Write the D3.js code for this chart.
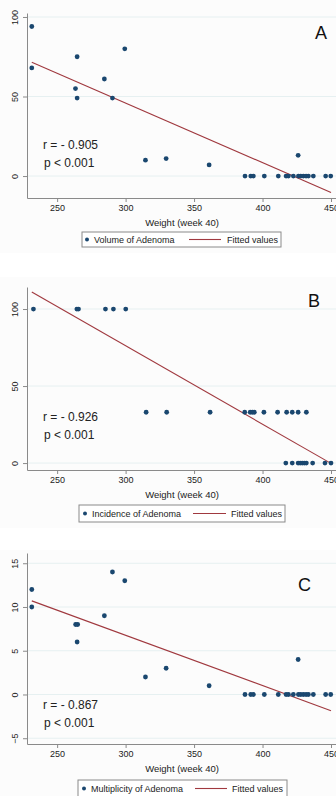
<!DOCTYPE html>
<html>
<head>
<meta charset="utf-8">
<title>Weight vs adenoma</title>
<script src="https://cdn.jsdelivr.net/npm/d3@7"></script>
<style>
  body { margin: 0; background: #fff; }
  svg { display: block; font-family: "Liberation Sans", Arial, sans-serif; }
  .tick text { font-size: 9px; fill: #222; }
  .axis path, .axis line { stroke: #8a8a8a; }
</style>
</head>
<body>
<svg id="chart" width="336" height="796"></svg>
<script>
// x tick labels (shared)
var xTicks = [250, 300, 350, 400, 450];

// panel A : volume of adenoma
var weightA = [231.5, 231.5, 264.6, 263.4, 264.6, 284.5, 290.4, 299.4, 314.5, 329.6, 361, 426,
  387.2, 391.4, 393.3, 401.3, 411.5, 417.2, 418.9, 422.5, 426.2, 427.9, 429.8, 431.8, 433.5, 437.1, 446.1, 449.8];
var volumeA = [94, 68, 75, 55, 49, 61, 49, 80, 10, 11, 7, 13,
  0, 0, 0, 0, 0, 0, 0, 0, 0, 0, 0, 0, 0, 0, 0, 0];
var yTicksA = [0, 50, 100];
var fitA = [[231.5, 71.5], [450, -10.3]];

// panel B : incidence of adenoma
var weightB = [232.7, 264.4, 265.6, 285.3, 291.1, 300.1,
  315, 330, 361.7, 387, 391, 392.6, 394, 401, 411, 417.6, 421.7, 426, 432,
  417, 421.7, 426, 427.5, 429, 430.5, 432, 436.6, 445.6, 450];
var incidenceB = [100, 100, 100, 100, 100, 100,
  33, 33, 33, 33, 33, 33, 33, 33, 33, 33, 33, 33, 33,
  0, 0, 0, 0, 0, 0, 0, 0, 0, 0];
var yTicksB = [0, 50, 100];
var fitB = [[231.5, 111], [450, -0.2]];

// panel C : multiplicity of adenoma
var weightC = [231.5, 231.5, 263.5, 265, 264.6, 284.5, 290.4, 299.4, 314.5, 329.6, 361, 426,
  387.2, 391.4, 393.3, 401.3, 411.5, 417.2, 418.9, 422.5, 426.2, 427.9, 429.8, 431.8, 433.5, 437.1, 446.1, 449.8];
var multiplicityC = [12, 10, 8, 8, 6, 9, 14, 13, 2, 3, 1, 4,
  0, 0, 0, 0, 0, 0, 0, 0, 0, 0, 0, 0, 0, 0, 0, 0];
var yTicksC = [-5, 0, 5, 10, 15];
var fitC = [[231.5, 10.7], [450, -1.85]];

var dotColor = "#1a476f", fitColor = "#a0393f";

var panels = [
  {letter: "A", xs: weightA, ys: volumeA, yTicks: yTicksA, fit: fitA, name: "Volume of Adenoma", r: "r = - 0.905",
   bgTop: 0, top: 13, bottom: 198, ydom: [-13.8, 102.5], letterX: 315, letterY: 39, statY: 149,
   legend: {x0: 82, x1: 281, y0: 232, y1: 247, dot: 87, text: 94, l0: 189, l1: 221, t2: 227}},
  {letter: "B", xs: weightB, ys: incidenceB, yTicks: yTicksB, fit: fitB, name: "Incidence of Adenoma", r: "r = - 0.926",
   bgTop: 277, top: 287, bottom: 470, ydom: [-4.5, 114.3], letterX: 308, letterY: 307, statY: 421,
   legend: {x0: 79, x1: 285, y0: 505, y1: 522, dot: 85, text: 92, l0: 193, l1: 226, t2: 231}},
  {letter: "C", xs: weightC, ys: multiplicityC, yTicks: yTicksC, fit: fitC, name: "Multiplicity of Adenoma", r: "r = - 0.867",
   bgTop: 550, top: 553, bottom: 744, ydom: [-5.66, 16.17], letterX: 298, letterY: 591, statY: 709,
   legend: {x0: 78, x1: 287, y0: 780, y1: 797, dot: 84, text: 91, l0: 195, l1: 227, t2: 232}}
];

var svg = d3.select("#chart");
var axisLeft = 27;

var x = d3.scaleLinear().domain([228, 460]).range([axisLeft, 57 + 210 * 1.37]);

panels.forEach(function(p) {
  var y = d3.scaleLinear().domain(p.ydom).range([p.bottom, p.top]);
  var g = svg.append("g");

  // faint panel background
  g.append("rect")
    .attr("x", 0).attr("y", p.bgTop)
    .attr("width", 336).attr("height", p.legend.y1 + 6 - p.bgTop)
    .attr("fill", "#fcfcfc");

  // gridlines
  g.selectAll(".grid").data(p.yTicks).enter().append("line")
    .attr("x1", axisLeft).attr("x2", 336)
    .attr("y1", function(d) { return y(d); })
    .attr("y2", function(d) { return y(d); })
    .attr("stroke", "#e6f0f1").attr("stroke-width", 1);

  // x axis
  var xa = g.append("g").attr("class", "axis")
    .attr("transform", "translate(0," + p.bottom + ")")
    .call(d3.axisBottom(x).tickValues(xTicks).tickSize(4).tickPadding(3).tickSizeOuter(0));
  xa.select(".domain").attr("stroke", "#8a8a8a");

  // y axis
  var ya = g.append("g").attr("class", "axis")
    .attr("transform", "translate(" + axisLeft + ",0)")
    .call(d3.axisLeft(y).tickValues(p.yTicks).tickSize(4).tickSizeOuter(0));
  ya.selectAll(".tick text")
    .attr("transform", "rotate(-90)")
    .attr("x", 0).attr("y", -9)
    .attr("dy", "0")
    .attr("text-anchor", "middle");

  // axis title
  g.append("text")
    .attr("x", 182).attr("y", p.bottom + 28)
    .attr("text-anchor", "middle")
    .attr("font-size", "9.5px").attr("fill", "#222")
    .text("Weight (week 40)");

  // fitted line
  g.append("line")
    .attr("x1", x(p.fit[0][0])).attr("y1", y(p.fit[0][1]))
    .attr("x2", x(p.fit[1][0])).attr("y2", y(p.fit[1][1]))
    .attr("stroke", fitColor).attr("stroke-width", 1.1);

  // points
  g.selectAll(".dot").data(p.xs).enter().append("circle")
    .attr("cx", function(d) { return x(d); })
    .attr("cy", function(d, i) { return y(p.ys[i]); })
    .attr("r", 2.4)
    .attr("fill", dotColor);

  // panel letter
  g.append("text")
    .attr("x", p.letterX).attr("y", p.letterY)
    .attr("font-size", "18px").attr("fill", "#111")
    .text(p.letter);

  // stats
  g.append("text").attr("x", 43).attr("y", p.statY)
    .attr("font-size", "12px").attr("fill", "#222").text(p.r);
  g.append("text").attr("x", 44).attr("y", p.statY + 18)
    .attr("font-size", "12px").attr("fill", "#222").text("p < 0.001");

  // legend
  var L = p.legend, my = (L.y0 + L.y1) / 2;
  g.append("rect")
    .attr("x", L.x0).attr("y", L.y0)
    .attr("width", L.x1 - L.x0).attr("height", L.y1 - L.y0)
    .attr("fill", "#fff").attr("stroke", "#8a8a8a");
  g.append("circle").attr("cx", L.dot).attr("cy", my).attr("r", 2)
    .attr("fill", dotColor);
  g.append("text").attr("x", L.text).attr("y", my + 3.2)
    .attr("font-size", "9px").attr("fill", "#222").text(p.name);
  g.append("line").attr("x1", L.l0).attr("x2", L.l1)
    .attr("y1", my).attr("y2", my)
    .attr("stroke", fitColor).attr("stroke-width", 1.1);
  g.append("text").attr("x", L.t2).attr("y", my + 3.2)
    .attr("font-size", "9px").attr("fill", "#222").text("Fitted values");
});
</script>
</body>
</html>
